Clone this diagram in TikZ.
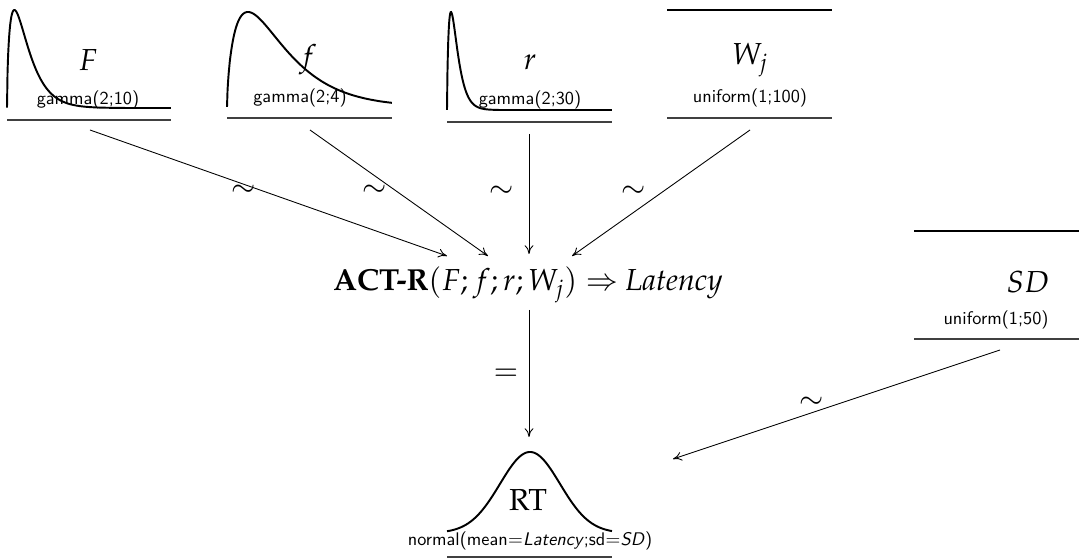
\documentclass[tikz,border=0pt]{standalone}
\usepackage[T1]{fontenc}
\usepackage{mathpazo}
\newcommand{\distfont}{\fontencoding{TU}\fontfamily{lmss}\selectfont}
\usetikzlibrary{arrows.meta}
\begin{document}
\begin{tikzpicture}[x=0.02cm,y=-0.02cm,
  curve/.style={line width=1.1pt,black},
  rule/.style={line width=0.8pt,black!75},
  conn/.style={-{To[length=5pt,width=5pt]},line width=0.5pt},
  varlab/.style={font=\fontsize{17.3}{20}\selectfont},
  distlab/.style={font=\distfont\fontsize{10.4}{12}\selectfont},
  rel/.style={font=\fontsize{17}{20}\selectfont}]
\useasboundingbox (0,0) rectangle (1079,560);
% F
\draw[curve] plot[domain=0:1,samples=300] ({7+164*\x},{108-98*pow(\x/0.045+0.00001,0.6)*exp(0.6*(1-\x/0.045))});
\draw[rule] (7,120) -- (171,120);
\node[varlab] (Flab) at (88,60) {$F$};
\node[distlab] (Fdist) at (88,100) {gamma(2;10)};
% f
\draw[curve] plot[domain=0:1,samples=300] ({227+165*\x},{107-95*pow(\x/0.127+0.00001,0.65)*exp(0.65*(1-\x/0.127))});
\draw[rule] (227,118) -- (392,118);
\node[varlab] (flab) at (308,60) {$f$};
\node[distlab] (fdist) at (300,98) {gamma(2;4)};
% r
\draw[curve] plot[domain=0:1,samples=400] ({447+165*\x},{110-98*pow(\x/0.024+0.00001,0.75)*exp(0.75*(1-\x/0.024))});
\draw[rule] (447,122) -- (612,122);
\node[varlab] (rlab) at (530,62) {$r$};
\node[distlab] (rdist) at (530,100) {gamma(2;30)};
% W_j
\draw[curve] (667,10) -- (832,10);
\draw[rule] (667,118) -- (832,118);
\node[varlab] (Wlab) at (750,60) {$W_j$};
\node[distlab] (Wdist) at (750,98) {uniform(1;100)};
% SD
\draw[curve] (914,231) -- (1079,231);
\draw[rule] (914,339) -- (1079,339);
\node[varlab] (SDlab) at (1028,282) {$SD$};
\node[distlab] (SDdist) at (996,320) {uniform(1;50)};
% ACT-R
\node[varlab] (actr) at (528,285) {\textbf{ACT-R}$(F;f;r;W_j)\Rightarrow$ \textit{Latency}};
% RT
\draw[curve] plot[domain=447:612,samples=150] (\x,{533-81*exp(-((\x-530)/30)^2/2)});
\draw[rule] (447,557) -- (612,557);
\node[varlab] (RT) at (528,500) {RT};
\node[distlab] (normal) at (530,541) {normal(mean$=$\textit{Latency};sd$=$\textit{SD})};
% connectors
\coordinate (Fbot) at (90,130);
\coordinate (fbot) at (310,130);
\coordinate (rbot) at (529,134);
\coordinate (Wbot) at (750,130);
\coordinate (tF) at (447,256);
\coordinate (tf) at (488,256);
\coordinate (tr) at (529,254);
\coordinate (tW) at (572,256);
\coordinate (abot) at (529,310);
\coordinate (RTtop) at (529,437);
\coordinate (SDbot) at (1000,350);
\coordinate (tSD) at (673,459);
\draw[conn] (Fbot) -- (tF);
\draw[conn] (fbot) -- (tf);
\draw[conn] (rbot) -- (tr);
\draw[conn] (Wbot) -- (tW);
\draw[conn] (abot) -- (RTtop);
\draw[conn] (SDbot) -- (tSD);
\node[rel] (s1) at (244,191) {$\sim$};
\node[rel] (s2) at (375,191) {$\sim$};
\node[rel] (s3) at (502,192) {$\sim$};
\node[rel] (s4) at (634,192) {$\sim$};
\node[rel] (eq) at (506,375) {$=$};
\node[rel] (s5) at (812,403) {$\sim$};
\end{tikzpicture}
\end{document}
